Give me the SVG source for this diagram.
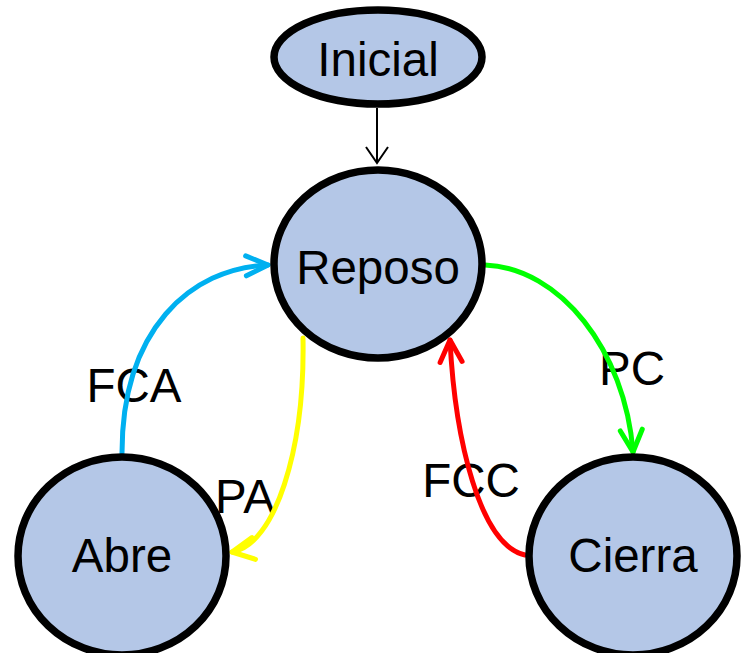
<svg xmlns="http://www.w3.org/2000/svg" width="741" height="653" viewBox="0 0 741 653">
<style>
.node{fill:#B4C7E7;stroke:#000;stroke-width:7.5}
.lbl{font-family:"Liberation Sans",Arial,sans-serif;font-size:47.5px;fill:#000}
.c{fill:none;stroke-width:5;stroke-linecap:round}
</style>
<defs>
<marker id="mb" markerUnits="userSpaceOnUse" markerWidth="60" markerHeight="60" viewBox="-30 -30 60 60" refX="0" refY="0" orient="auto" overflow="visible"><path d="M-22,-10 L0,0 L-22,10" fill="none" stroke="#00B0F0" stroke-width="5" stroke-linecap="round" stroke-linejoin="round"/></marker>
<marker id="mg" markerUnits="userSpaceOnUse" markerWidth="60" markerHeight="60" viewBox="-30 -30 60 60" refX="0" refY="0" orient="auto" overflow="visible"><path d="M-22,-11 L0,0 L-22,11" fill="none" stroke="#00FF00" stroke-width="5" stroke-linecap="round" stroke-linejoin="round"/></marker>
<marker id="mr" markerUnits="userSpaceOnUse" markerWidth="60" markerHeight="60" viewBox="-30 -30 60 60" refX="0" refY="0" orient="auto" overflow="visible"><path d="M-22,-11 L0,0 L-22,11" fill="none" stroke="#FF0000" stroke-width="5" stroke-linecap="round" stroke-linejoin="round"/></marker>
<marker id="my" markerUnits="userSpaceOnUse" markerWidth="60" markerHeight="60" viewBox="-30 -30 60 60" refX="0" refY="0" orient="auto" overflow="visible"><path d="M-22,-11 L0,0 L-22,11" fill="none" stroke="#FFFF00" stroke-width="5" stroke-linecap="round" stroke-linejoin="round"/></marker>
<marker id="mk" markerUnits="userSpaceOnUse" markerWidth="40" markerHeight="40" viewBox="-20 -20 40 40" refX="0" refY="0" orient="auto" overflow="visible"><path d="M-16,-11 L0,0 L-16,11" fill="none" stroke="#000" stroke-width="2"/></marker>
</defs>
<g id="labels">
<text class="lbl" x="134" y="402" text-anchor="middle">FCA</text>
<text class="lbl" x="245" y="513" text-anchor="middle">PA</text>
<text class="lbl" x="632" y="385" text-anchor="middle">PC</text>
<text class="lbl" x="471" y="497" text-anchor="middle">FCC</text>
</g>
<g id="connectors">
<line x1="377" y1="108" x2="377" y2="163" stroke="#000" stroke-width="2" marker-end="url(#mk)"/>
<path class="c" stroke="#00B0F0" d="M122,453 C122,330 190,268 268,265" marker-end="url(#mb)"/>
<path class="c" stroke="#00FF00" d="M485,265 C560,268 625,350 633,452" marker-end="url(#mg)"/>
<path class="c" stroke="#FF0000" d="M525,555 C480,545 455,440 450,340" marker-end="url(#mr)"/>
<path class="c" stroke="#FFFF00" d="M303,338 C305,450 275,545 232,552" marker-end="url(#my)"/>
</g>
<g id="inicial">
<ellipse class="node" cx="378" cy="57" rx="104" ry="47"/>
<text class="lbl" x="378" y="76" text-anchor="middle">Inicial</text>
</g>
<g id="reposo">
<ellipse class="node" cx="378" cy="264" rx="104" ry="94"/>
<text class="lbl" x="378" y="284" text-anchor="middle">Reposo</text>
</g>
<g id="abre">
<ellipse class="node" cx="122" cy="556" rx="104" ry="99"/>
<text class="lbl" x="122" y="572" text-anchor="middle">Abre</text>
</g>
<g id="cierra">
<ellipse class="node" cx="633" cy="556" rx="104" ry="99"/>
<text class="lbl" x="633" y="572" text-anchor="middle">Cierra</text>
</g>
</svg>
